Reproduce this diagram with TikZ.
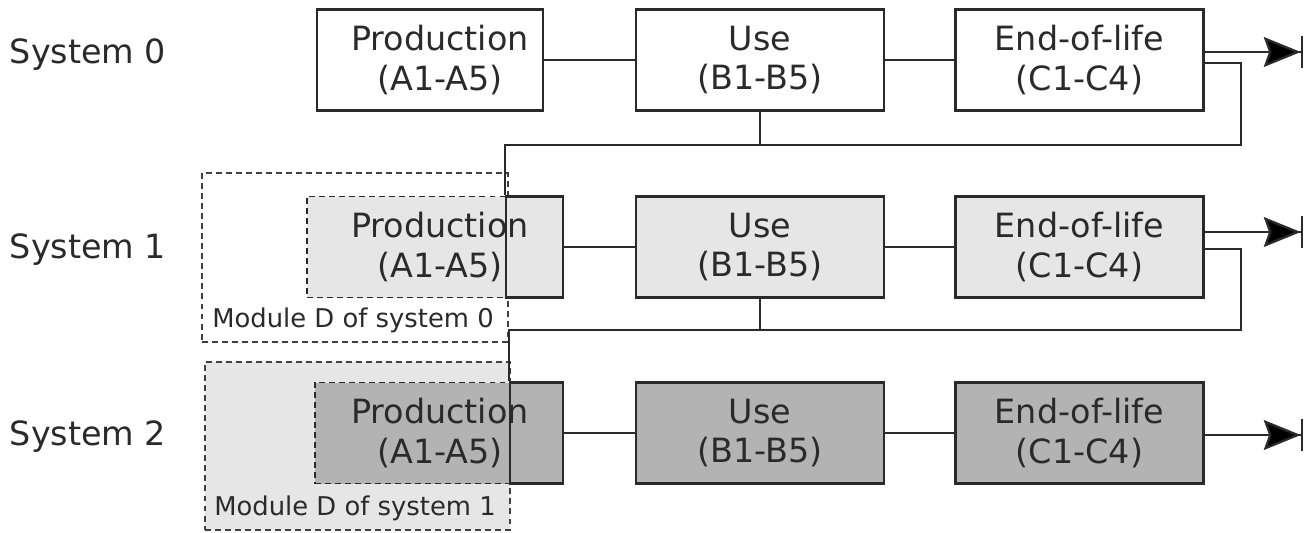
\documentclass[tikz,border=0pt]{standalone}
\usepackage{fontspec}
\setmainfont{DejaVu Sans}
\usetikzlibrary{positioning, arrows.meta, calc}

\definecolor{lightgrey}{HTML}{E6E6E6}
\definecolor{darkgrey}{HTML}{B3B3B3}
\definecolor{ink}{HTML}{2A2A2A}

\begin{document}
\begin{tikzpicture}[x=0.02cm, y=-0.02cm, text=ink,
  stage/.style={draw=ink, line width=1.3pt, minimum width=4.96cm, minimum height=2.02cm,
    inner sep=0pt, align=center, font=\fontsize{19}{22.7}\selectfont},
  stagetext/.style={inner sep=0pt, align=center, font=\fontsize{19}{22.7}\selectfont},
  reuse/.style={draw=ink, dash pattern=on 3.4pt off 2.3pt, line width=1pt,
    minimum height=2.02cm, inner sep=0pt},
  moduleD/.style={draw=ink!90, dash pattern=on 3.4pt off 2.3pt, line width=1pt,
    minimum width=6.12cm, minimum height=3.38cm, inner sep=0pt},
  link/.style={draw=ink, line width=1.3pt},
  output/.style={draw=ink, line width=1.3pt,
    -{Stealth[length=21pt,width=17pt,inset=3pt,sep=0pt,fill=black]Bar[width=18pt,line width=1.3pt]}}]

  \useasboundingbox (0,0) rectangle (1305,532);

  % system 0
  \node[stagetext] (sys0) at (88,55) {System 0};
  \node[stage, minimum width=4.52cm] (prod0) at (430,60) {};
  \node[stagetext] (prod0text) at (440,60) {Production\\(A1-A5)};
  \node[stage] (use0) at (760,60) {Use\\(B1-B5)};
  \node[stage] (eol0) at (1079.5,60) {End-of-life\\(C1-C4)};

  % system 1
  \node[stagetext] (sys1) at (88,250) {System 1};
  \node[moduleD] (modD0) at (355,257.5) {};
  \node[anchor=south west, inner sep=0pt, font=\fontsize{14.7}{17}\selectfont]
    (modD0text) at (212,333) {Module D of system 0};
  \node[reuse, fill=lightgrey, minimum width=3.98cm] (reuse1) at (406.5,247) {};
  \fill[lightgrey] (506,196) rectangle (563,298);
  \node[stagetext] (prod1text) at (440,247) {Production\\(A1-A5)};
  \node[stage, minimum width=1.14cm] (prod1) at (534.5,247) {};
  \node[stage, fill=lightgrey] (use1) at (760,247) {Use\\(B1-B5)};
  \node[stage, fill=lightgrey] (eol1) at (1079.5,247) {End-of-life\\(C1-C4)};

  % system 2
  \node[stagetext] (sys2) at (88,437) {System 2};
  \node[moduleD, fill=lightgrey, minimum width=6.1cm, minimum height=3.36cm] (modD1) at (357.5,446) {};
  \node[anchor=south west, inner sep=0pt, font=\fontsize{14.7}{17}\selectfont]
    (modD1text) at (214,521) {Module D of system 1};
  \node[reuse, fill=darkgrey, minimum width=3.9cm] (reuse2) at (412.5,433) {};
  \fill[darkgrey] (510,382) rectangle (563,484);
  \node[stagetext] (prod2text) at (440,433) {Production\\(A1-A5)};
  \node[stage, minimum width=1.06cm] (prod2) at (536.5,433) {};
  \node[stage, fill=darkgrey] (use2) at (760,433) {Use\\(B1-B5)};
  \node[stage, fill=darkgrey] (eol2) at (1079.5,433) {End-of-life\\(C1-C4)};

  % links in each system
  \draw[link] (prod0) -- (use0);
  \draw[link] (use0) -- (eol0);
  \draw[link] (prod1) -- (use1);
  \draw[link] (use1) -- (eol1);
  \draw[link] (prod2) -- (use2);
  \draw[link] (use2) -- (eol2);

  % outputs
  \coordinate (out0) at (1303,52);
  \coordinate (out1) at (1303,232);
  \coordinate (out2) at (1303,435);
  \draw[output] (eol0.east |- out0) -- (out0);
  \draw[output] (eol1.east |- out1) -- (out1);
  \draw[output] (eol2.east |- out2) -- (out2);

  % feedback to the next system
  \coordinate (fb0) at (1241,145);
  \coordinate (fb1) at (1241,330);
  \draw[link] (eol0.east |- 0,63) -| (fb0) -| (prod1.north west);
  \draw[link] (use0.south) -- (use0.south |- fb0);
  \draw[link] (eol1.east |- 0,249) -| (fb1) -| (prod2.north west);
  \draw[link] (use1.south) -- (use1.south |- fb1);
\end{tikzpicture}
\end{document}
